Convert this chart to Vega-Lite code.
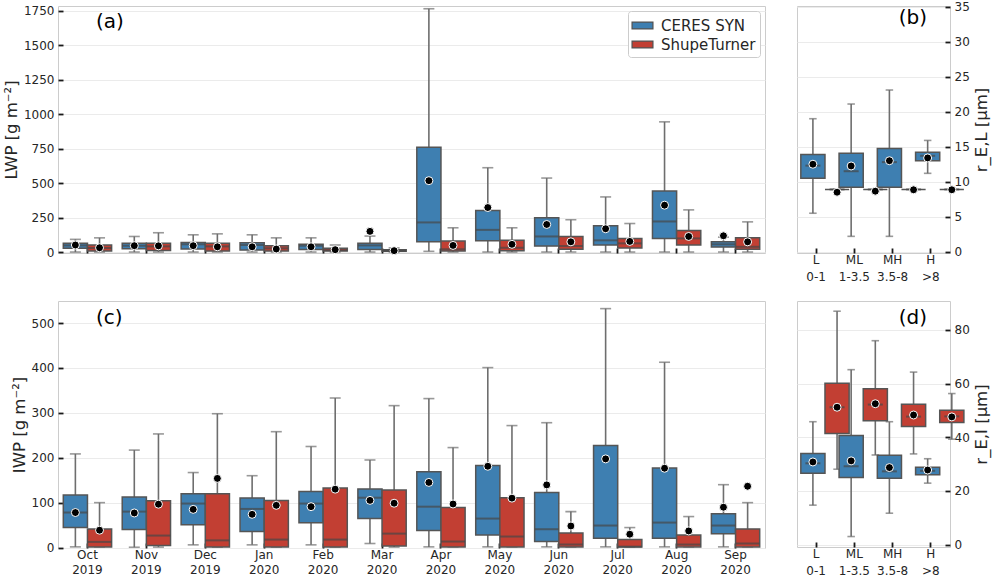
{
  "$schema": "https://vega.github.io/schema/vega-lite/v6.json",
  "background": "white",
  "padding": {"left": 2, "top": 0, "right": 2, "bottom": 0},
  "config": {
    "font": "DejaVu Sans",
    "view": {"stroke": "#cccccc", "strokeWidth": 1},
    "axis": {"domain": false, "tickColor": "#1a1a1a", "tickSize": -5, "tickWidth": 1.8, "labelColor": "#262626", "labelFontSize": 12, "labelPadding": 9, "titleColor": "#262626", "titleFontSize": 16.5, "titleFontWeight": "normal", "gridColor": "#ebebeb", "gridWidth": 1, "labelFont": "DejaVu Sans", "titleFont": "DejaVu Sans", "grid": false},
    "axisQuantitative": {"format": "d"},
    "axisX": {"labelAngle": 0, "labelPadding": 6, "labelLineHeight": 15},
    "title": {"fontSize": 20, "fontWeight": "normal", "font": "DejaVu Sans", "color": "black", "baseline": "alphabetic", "frame": "group"},
    "legend": {"title": null, "labelFontSize": 15, "labelColor": "#262626", "labelFont": "DejaVu Sans", "symbolType": "M-1.1,-0.36H1.1V0.36H-1.1Z", "symbolSize": 360, "symbolStrokeColor": "#505050", "symbolStrokeWidth": 1.2, "symbolOpacity": 1, "strokeColor": "#cccccc", "fillColor": "white", "padding": 4, "cornerRadius": 3, "rowPadding": 0, "labelOffset": 8}
  },
  "datasets": {
    "lwp": [
      {"m": "Oct 2019", "s": "CERES SYN", "lo": 0, "q1": 27, "md": 48, "q3": 63, "hi": 92, "mn": 51},
      {"m": "Oct 2019", "s": "ShupeTurner", "lo": 0, "q1": 7, "md": 29, "q3": 51, "hi": 103, "mn": 31},
      {"m": "Nov 2019", "s": "CERES SYN", "lo": 0, "q1": 24, "md": 46, "q3": 63, "hi": 113, "mn": 46},
      {"m": "Nov 2019", "s": "ShupeTurner", "lo": 0, "q1": 12, "md": 41, "q3": 63, "hi": 140, "mn": 45},
      {"m": "Dec 2019", "s": "CERES SYN", "lo": 0, "q1": 22, "md": 56, "q3": 70, "hi": 125, "mn": 46},
      {"m": "Dec 2019", "s": "ShupeTurner", "lo": 0, "q1": 7, "md": 41, "q3": 63, "hi": 132, "mn": 38},
      {"m": "Jan 2020", "s": "CERES SYN", "lo": 0, "q1": 14, "md": 51, "q3": 67, "hi": 125, "mn": 38},
      {"m": "Jan 2020", "s": "ShupeTurner", "lo": 0, "q1": 7, "md": 27, "q3": 46, "hi": 103, "mn": 22},
      {"m": "Feb 2020", "s": "CERES SYN", "lo": 0, "q1": 19, "md": 46, "q3": 56, "hi": 103, "mn": 38},
      {"m": "Feb 2020", "s": "ShupeTurner", "lo": 0, "q1": 7, "md": 14, "q3": 27, "hi": 51, "mn": 17},
      {"m": "Mar 2020", "s": "CERES SYN", "lo": 0, "q1": 19, "md": 48, "q3": 63, "hi": 116, "mn": 150},
      {"m": "Mar 2020", "s": "ShupeTurner", "lo": 0, "q1": 5, "md": 10, "q3": 17, "hi": 30, "mn": 10},
      {"m": "Apr 2020", "s": "CERES SYN", "lo": 5, "q1": 74, "md": 215, "q3": 761, "hi": 1766, "mn": 518},
      {"m": "Apr 2020", "s": "ShupeTurner", "lo": 0, "q1": 7, "md": 20, "q3": 80, "hi": 176, "mn": 48},
      {"m": "May 2020", "s": "CERES SYN", "lo": 0, "q1": 82, "md": 161, "q3": 301, "hi": 612, "mn": 323},
      {"m": "May 2020", "s": "ShupeTurner", "lo": 0, "q1": 10, "md": 31, "q3": 85, "hi": 176, "mn": 56},
      {"m": "Jun 2020", "s": "CERES SYN", "lo": 0, "q1": 43, "md": 113, "q3": 248, "hi": 537, "mn": 200},
      {"m": "Jun 2020", "s": "ShupeTurner", "lo": 0, "q1": 20, "md": 43, "q3": 113, "hi": 234, "mn": 74},
      {"m": "Jul 2020", "s": "CERES SYN", "lo": 0, "q1": 51, "md": 85, "q3": 190, "hi": 400, "mn": 169},
      {"m": "Jul 2020", "s": "ShupeTurner", "lo": 0, "q1": 29, "md": 63, "q3": 99, "hi": 207, "mn": 77},
      {"m": "Aug 2020", "s": "CERES SYN", "lo": 0, "q1": 99, "md": 222, "q3": 443, "hi": 945, "mn": 340},
      {"m": "Aug 2020", "s": "ShupeTurner", "lo": 0, "q1": 51, "md": 99, "q3": 157, "hi": 306, "mn": 113},
      {"m": "Sep 2020", "s": "CERES SYN", "lo": 0, "q1": 36, "md": 56, "q3": 74, "hi": 108, "mn": 118},
      {"m": "Sep 2020", "s": "ShupeTurner", "lo": 0, "q1": 20, "md": 38, "q3": 103, "hi": 219, "mn": 74}
    ],
    "iwp": [
      {"m": "Oct 2019", "s": "CERES SYN", "lo": 1.5, "q1": 44.5, "md": 78, "q3": 117, "hi": 208.5, "mn": 78},
      {"m": "Oct 2019", "s": "ShupeTurner", "lo": 1.5, "q1": 1.5, "md": 12.6, "q3": 41.5, "hi": 100, "mn": 38.6},
      {"m": "Nov 2019", "s": "CERES SYN", "lo": 0.7, "q1": 40, "md": 80, "q3": 112.8, "hi": 217, "mn": 77},
      {"m": "Nov 2019", "s": "ShupeTurner", "lo": 1, "q1": 4.5, "md": 26.7, "q3": 104, "hi": 253, "mn": 96.5},
      {"m": "Dec 2019", "s": "CERES SYN", "lo": 6, "q1": 50.5, "md": 98, "q3": 120, "hi": 167, "mn": 85},
      {"m": "Dec 2019", "s": "ShupeTurner", "lo": 1, "q1": 1, "md": 16, "q3": 120, "hi": 298, "mn": 154},
      {"m": "Jan 2020", "s": "CERES SYN", "lo": 6, "q1": 35.6, "md": 86, "q3": 110.5, "hi": 160, "mn": 74},
      {"m": "Jan 2020", "s": "ShupeTurner", "lo": 1, "q1": 1, "md": 17.8, "q3": 104.6, "hi": 258, "mn": 94},
      {"m": "Feb 2020", "s": "CERES SYN", "lo": 6, "q1": 55, "md": 98, "q3": 124.7, "hi": 225, "mn": 91},
      {"m": "Feb 2020", "s": "ShupeTurner", "lo": 1, "q1": 1, "md": 17.8, "q3": 132.8, "hi": 333, "mn": 130},
      {"m": "Mar 2020", "s": "CERES SYN", "lo": 9, "q1": 64.6, "md": 111, "q3": 130.6, "hi": 195, "mn": 105},
      {"m": "Mar 2020", "s": "ShupeTurner", "lo": 1, "q1": 3.7, "md": 31, "q3": 128.4, "hi": 316, "mn": 98.7},
      {"m": "Apr 2020", "s": "CERES SYN", "lo": 1.5, "q1": 37.8, "md": 91, "q3": 169, "hi": 331.7, "mn": 145},
      {"m": "Apr 2020", "s": "ShupeTurner", "lo": 1.5, "q1": 1.5, "md": 13.4, "q3": 89, "hi": 222.6, "mn": 97},
      {"m": "May 2020", "s": "CERES SYN", "lo": 1.5, "q1": 28, "md": 64.5, "q3": 182.5, "hi": 400.7, "mn": 181},
      {"m": "May 2020", "s": "ShupeTurner", "lo": 1.5, "q1": 1.5, "md": 24.5, "q3": 111, "hi": 271.6, "mn": 110},
      {"m": "Jun 2020", "s": "CERES SYN", "lo": 1.5, "q1": 13.4, "md": 40.8, "q3": 122.4, "hi": 278, "mn": 139.5},
      {"m": "Jun 2020", "s": "ShupeTurner", "lo": 1.5, "q1": 1.5, "md": 6.7, "q3": 32.6, "hi": 80, "mn": 48},
      {"m": "Jul 2020", "s": "CERES SYN", "lo": 1.5, "q1": 20.8, "md": 49, "q3": 227, "hi": 532, "mn": 197.4},
      {"m": "Jul 2020", "s": "ShupeTurner", "lo": 1.5, "q1": 1.5, "md": 2, "q3": 17.8, "hi": 44.5, "mn": 29.7},
      {"m": "Aug 2020", "s": "CERES SYN", "lo": 1.5, "q1": 20.8, "md": 55.6, "q3": 177, "hi": 412.6, "mn": 176.6},
      {"m": "Aug 2020", "s": "ShupeTurner", "lo": 1.5, "q1": 1.5, "md": 6.7, "q3": 28, "hi": 69, "mn": 37},
      {"m": "Sep 2020", "s": "CERES SYN", "lo": 1.5, "q1": 31, "md": 49, "q3": 75, "hi": 140, "mn": 89.8},
      {"m": "Sep 2020", "s": "ShupeTurner", "lo": 1.5, "q1": 1.5, "md": 9, "q3": 41.5, "hi": 100, "mn": 136.5}
    ],
    "rel": [
      {"m": "L 0-1", "s": "CERES SYN", "lo": 5.5, "q1": 10.5, "md": 12.3, "q3": 13.9, "hi": 19.0, "mn": 12.5},
      {"m": "L 0-1", "s": "ShupeTurner", "lo": 8.9, "q1": 8.9, "md": 8.9, "q3": 8.9, "hi": 8.9, "mn": 8.5},
      {"m": "ML 1-3.5", "s": "CERES SYN", "lo": 2.2, "q1": 9.2, "md": 11.5, "q3": 14.05, "hi": 21.1, "mn": 12.25},
      {"m": "ML 1-3.5", "s": "ShupeTurner", "lo": 8.9, "q1": 8.9, "md": 8.9, "q3": 8.9, "hi": 8.9, "mn": 8.65},
      {"m": "MH 3.5-8", "s": "CERES SYN", "lo": 2.2, "q1": 9.2, "md": 12.8, "q3": 14.76, "hi": 23.1, "mn": 13.0},
      {"m": "MH 3.5-8", "s": "ShupeTurner", "lo": 8.9, "q1": 8.9, "md": 8.9, "q3": 8.9, "hi": 8.9, "mn": 8.85},
      {"m": "H >8", "s": "CERES SYN", "lo": 11.2, "q1": 13.0, "md": 13.7, "q3": 14.2, "hi": 15.9, "mn": 13.4},
      {"m": "H >8", "s": "ShupeTurner", "lo": 8.9, "q1": 8.9, "md": 8.9, "q3": 8.9, "hi": 8.9, "mn": 8.85}
    ],
    "rei": [
      {"m": "L 0-1", "s": "CERES SYN", "lo": 14.7, "q1": 26.6, "md": 30.3, "q3": 34.0, "hi": 45.8, "mn": 30.8},
      {"m": "L 0-1", "s": "ShupeTurner", "lo": 28.1, "q1": 41.4, "md": 51.2, "q3": 60.1, "hi": 87.0, "mn": 51.2},
      {"m": "ML 1-3.5", "s": "CERES SYN", "lo": 3.0, "q1": 25.0, "md": 29.2, "q3": 40.7, "hi": 65.2, "mn": 31.2},
      {"m": "ML 1-3.5", "s": "ShupeTurner", "lo": 33.4, "q1": 46.2, "md": 52.2, "q3": 58.1, "hi": 76.0, "mn": 52.5},
      {"m": "MH 3.5-8", "s": "CERES SYN", "lo": 11.7, "q1": 24.7, "md": 27.3, "q3": 33.3, "hi": 45.8, "mn": 28.7},
      {"m": "MH 3.5-8", "s": "ShupeTurner", "lo": 33.8, "q1": 44.0, "md": 47.7, "q3": 52.3, "hi": 64.3, "mn": 48.3},
      {"m": "H >8", "s": "CERES SYN", "lo": 22.9, "q1": 26.0, "md": 27.5, "q3": 28.8, "hi": 32.0, "mn": 27.8},
      {"m": "H >8", "s": "ShupeTurner", "lo": 39.3, "q1": 45.5, "md": 47.8, "q3": 50.1, "hi": 56.3, "mn": 47.6}
    ]
  },
  "columns": 2,
  "bounds": "flush",
  "spacing": {"row": 48, "column": 32},
  "resolve": {"scale": {"color": "independent", "x": "independent", "y": "independent"}, "legend": {"color": "independent"}},
  "concat": [
    {
      "width": 707, "height": 247,
      "data": {"name": "lwp"},
      "title": {"text": "(a)", "anchor": "start", "dx": 38, "offset": -27},
      "encoding": {
        "x": {"field": "m", "type": "nominal", "sort": ["Oct 2019","Nov 2019","Dec 2019","Jan 2020","Feb 2020","Mar 2020","Apr 2020","May 2020","Jun 2020","Jul 2020","Aug 2020","Sep 2020"], "scale": {"paddingInner": 0.18, "paddingOuter": 0.09}, "axis": {"title": null, "labels": false}},
        "xOffset": {"field": "s", "type": "nominal", "sort": ["CERES SYN", "ShupeTurner"], "scale": {"paddingInner": 0, "paddingOuter": 0}}
      },
      "layer": [
        {"mark": {"type": "rule", "color": "#6e6e6e", "strokeWidth": 1.6}, "encoding": {"y": {"field": "lo", "type": "quantitative", "scale": {"domain": [-7, 1786], "nice": false, "zero": false}, "axis": {"title": "LWP [g m⁻²]", "values": [0, 250, 500, 750, 1000, 1250, 1500, 1750], "grid": true}}, "y2": {"field": "hi"}}},
        {"mark": {"type": "tick", "color": "#6e6e6e", "thickness": 1.6, "size": 11}, "encoding": {"y": {"field": "lo", "type": "quantitative", "scale": {"domain": [-7, 1786], "nice": false, "zero": false}, "axis": {"title": "LWP [g m⁻²]", "values": [0, 250, 500, 750, 1000, 1250, 1500, 1750], "grid": true}}}},
        {"mark": {"type": "tick", "color": "#6e6e6e", "thickness": 1.6, "size": 11}, "encoding": {"y": {"field": "hi", "type": "quantitative", "scale": {"domain": [-7, 1786], "nice": false, "zero": false}, "axis": {"title": "LWP [g m⁻²]", "values": [0, 250, 500, 750, 1000, 1250, 1500, 1750], "grid": true}}}},
        {"mark": {"type": "bar", "stroke": "#555555", "strokeWidth": 1.5}, "encoding": {"y": {"field": "q1", "type": "quantitative", "scale": {"domain": [-7, 1786], "nice": false, "zero": false}, "axis": {"title": "LWP [g m⁻²]", "values": [0, 250, 500, 750, 1000, 1250, 1500, 1750], "grid": true}}, "y2": {"field": "q3"}, "color": {"field": "s", "type": "nominal", "scale": {"domain": ["CERES SYN", "ShupeTurner"], "range": ["#3e7fb1", "#c23f33"]}, "legend": {"orient": "top-right", "offset": 5}}}},
        {"mark": {"type": "tick", "color": "#474747", "thickness": 2, "size": 24}, "encoding": {"y": {"field": "md", "type": "quantitative", "scale": {"domain": [-7, 1786], "nice": false, "zero": false}, "axis": {"title": "LWP [g m⁻²]", "values": [0, 250, 500, 750, 1000, 1250, 1500, 1750], "grid": true}}}},
        {"mark": {"type": "point", "filled": true, "color": "black", "stroke": "white", "strokeWidth": 1, "size": 64, "opacity": 1}, "encoding": {"y": {"field": "mn", "type": "quantitative", "scale": {"domain": [-7, 1786], "nice": false, "zero": false}, "axis": {"title": "LWP [g m⁻²]", "values": [0, 250, 500, 750, 1000, 1250, 1500, 1750], "grid": true}}}}
      ]
    },
    {
      "width": 153, "height": 247,
      "data": {"name": "rel"},
      "title": {"text": "(b)", "anchor": "end", "dx": -23, "offset": -27},
      "encoding": {
        "x": {"field": "m", "type": "nominal", "sort": ["L 0-1", "ML 1-3.5", "MH 3.5-8", "H >8"], "scale": {"paddingInner": 0.2, "paddingOuter": 0.1}, "axis": {"title": null, "labelExpr": "split(datum.label, ' ')", "labelLineHeight": 17}},
        "xOffset": {"field": "s", "type": "nominal", "sort": ["CERES SYN", "ShupeTurner"], "scale": {"paddingInner": 0, "paddingOuter": 0}}
      },
      "layer": [
        {"mark": {"type": "rule", "color": "#6e6e6e", "strokeWidth": 1.6}, "encoding": {"y": {"field": "lo", "type": "quantitative", "scale": {"domain": [-0.18, 35.1], "nice": false, "zero": false}, "axis": {"orient": "right", "title": "r_E,L [μm]", "titleAngle": 270, "titleBaseline": "top", "values": [0, 5, 10, 15, 20, 25, 30, 35], "grid": true}}, "y2": {"field": "hi"}}},
        {"mark": {"type": "tick", "color": "#6e6e6e", "thickness": 1.6, "size": 7.5}, "encoding": {"y": {"field": "lo", "type": "quantitative", "scale": {"domain": [-0.18, 35.1], "nice": false, "zero": false}, "axis": {"orient": "right", "title": "r_E,L [μm]", "titleAngle": 270, "titleBaseline": "top", "values": [0, 5, 10, 15, 20, 25, 30, 35], "grid": true}}}},
        {"mark": {"type": "tick", "color": "#6e6e6e", "thickness": 1.6, "size": 7.5}, "encoding": {"y": {"field": "hi", "type": "quantitative", "scale": {"domain": [-0.18, 35.1], "nice": false, "zero": false}, "axis": {"orient": "right", "title": "r_E,L [μm]", "titleAngle": 270, "titleBaseline": "top", "values": [0, 5, 10, 15, 20, 25, 30, 35], "grid": true}}}},
        {"mark": {"type": "bar", "stroke": "#555555", "strokeWidth": 1.5}, "encoding": {"y": {"field": "q1", "type": "quantitative", "scale": {"domain": [-0.18, 35.1], "nice": false, "zero": false}, "axis": {"orient": "right", "title": "r_E,L [μm]", "titleAngle": 270, "titleBaseline": "top", "values": [0, 5, 10, 15, 20, 25, 30, 35], "grid": true}}, "y2": {"field": "q3"}, "color": {"field": "s", "type": "nominal", "scale": {"domain": ["CERES SYN", "ShupeTurner"], "range": ["#3e7fb1", "#c23f33"]}, "legend": null}}},
        {"mark": {"type": "tick", "color": "#474747", "thickness": 2, "size": 15}, "encoding": {"y": {"field": "md", "type": "quantitative", "scale": {"domain": [-0.18, 35.1], "nice": false, "zero": false}, "axis": {"orient": "right", "title": "r_E,L [μm]", "titleAngle": 270, "titleBaseline": "top", "values": [0, 5, 10, 15, 20, 25, 30, 35], "grid": true}}}},
        {"mark": {"type": "point", "filled": true, "color": "black", "stroke": "white", "strokeWidth": 1, "size": 64, "opacity": 1}, "encoding": {"y": {"field": "mn", "type": "quantitative", "scale": {"domain": [-0.18, 35.1], "nice": false, "zero": false}, "axis": {"orient": "right", "title": "r_E,L [μm]", "titleAngle": 270, "titleBaseline": "top", "values": [0, 5, 10, 15, 20, 25, 30, 35], "grid": true}}}}
      ]
    },
    {
      "width": 707, "height": 247,
      "data": {"name": "iwp"},
      "title": {"text": "(c)", "anchor": "start", "dx": 38, "offset": -27},
      "encoding": {
        "x": {"field": "m", "type": "nominal", "sort": ["Oct 2019","Nov 2019","Dec 2019","Jan 2020","Feb 2020","Mar 2020","Apr 2020","May 2020","Jun 2020","Jul 2020","Aug 2020","Sep 2020"], "scale": {"paddingInner": 0.18, "paddingOuter": 0.09}, "axis": {"title": null, "labelExpr": "split(datum.label, ' ')"}},
        "xOffset": {"field": "s", "type": "nominal", "sort": ["CERES SYN", "ShupeTurner"], "scale": {"paddingInner": 0, "paddingOuter": 0}}
      },
      "layer": [
        {"mark": {"type": "rule", "color": "#6e6e6e", "strokeWidth": 1.6}, "encoding": {"y": {"field": "lo", "type": "quantitative", "scale": {"domain": [-1, 549], "nice": false, "zero": false}, "axis": {"title": "IWP [g m⁻²]", "values": [0, 100, 200, 300, 400, 500], "grid": true}}, "y2": {"field": "hi"}}},
        {"mark": {"type": "tick", "color": "#6e6e6e", "thickness": 1.6, "size": 11}, "encoding": {"y": {"field": "lo", "type": "quantitative", "scale": {"domain": [-1, 549], "nice": false, "zero": false}, "axis": {"title": "IWP [g m⁻²]", "values": [0, 100, 200, 300, 400, 500], "grid": true}}}},
        {"mark": {"type": "tick", "color": "#6e6e6e", "thickness": 1.6, "size": 11}, "encoding": {"y": {"field": "hi", "type": "quantitative", "scale": {"domain": [-1, 549], "nice": false, "zero": false}, "axis": {"title": "IWP [g m⁻²]", "values": [0, 100, 200, 300, 400, 500], "grid": true}}}},
        {"mark": {"type": "bar", "stroke": "#555555", "strokeWidth": 1.5}, "encoding": {"y": {"field": "q1", "type": "quantitative", "scale": {"domain": [-1, 549], "nice": false, "zero": false}, "axis": {"title": "IWP [g m⁻²]", "values": [0, 100, 200, 300, 400, 500], "grid": true}}, "y2": {"field": "q3"}, "color": {"field": "s", "type": "nominal", "scale": {"domain": ["CERES SYN", "ShupeTurner"], "range": ["#3e7fb1", "#c23f33"]}, "legend": null}}},
        {"mark": {"type": "tick", "color": "#474747", "thickness": 2, "size": 24}, "encoding": {"y": {"field": "md", "type": "quantitative", "scale": {"domain": [-1, 549], "nice": false, "zero": false}, "axis": {"title": "IWP [g m⁻²]", "values": [0, 100, 200, 300, 400, 500], "grid": true}}}},
        {"mark": {"type": "point", "filled": true, "color": "black", "stroke": "white", "strokeWidth": 1, "size": 64, "opacity": 1}, "encoding": {"y": {"field": "mn", "type": "quantitative", "scale": {"domain": [-1, 549], "nice": false, "zero": false}, "axis": {"title": "IWP [g m⁻²]", "values": [0, 100, 200, 300, 400, 500], "grid": true}}}}
      ]
    },
    {
      "width": 153, "height": 246,
      "data": {"name": "rei"},
      "title": {"text": "(d)", "anchor": "end", "dx": -23, "offset": -27},
      "encoding": {
        "x": {"field": "m", "type": "nominal", "sort": ["L 0-1", "ML 1-3.5", "MH 3.5-8", "H >8"], "scale": {"paddingInner": 0.2, "paddingOuter": 0.1}, "axis": {"title": null, "labelExpr": "split(datum.label, ' ')", "labelLineHeight": 17}},
        "xOffset": {"field": "s", "type": "nominal", "sort": ["CERES SYN", "ShupeTurner"], "scale": {"paddingInner": 0, "paddingOuter": 0}}
      },
      "layer": [
        {"mark": {"type": "rule", "color": "#6e6e6e", "strokeWidth": 1.6}, "encoding": {"y": {"field": "lo", "type": "quantitative", "scale": {"domain": [-0.9, 90.8], "nice": false, "zero": false}, "axis": {"orient": "right", "title": "r_E,I [μm]", "titleAngle": 270, "titleBaseline": "top", "values": [0, 20, 40, 60, 80], "grid": true}}, "y2": {"field": "hi"}}},
        {"mark": {"type": "tick", "color": "#6e6e6e", "thickness": 1.6, "size": 7.5}, "encoding": {"y": {"field": "lo", "type": "quantitative", "scale": {"domain": [-0.9, 90.8], "nice": false, "zero": false}, "axis": {"orient": "right", "title": "r_E,I [μm]", "titleAngle": 270, "titleBaseline": "top", "values": [0, 20, 40, 60, 80], "grid": true}}}},
        {"mark": {"type": "tick", "color": "#6e6e6e", "thickness": 1.6, "size": 7.5}, "encoding": {"y": {"field": "hi", "type": "quantitative", "scale": {"domain": [-0.9, 90.8], "nice": false, "zero": false}, "axis": {"orient": "right", "title": "r_E,I [μm]", "titleAngle": 270, "titleBaseline": "top", "values": [0, 20, 40, 60, 80], "grid": true}}}},
        {"mark": {"type": "bar", "stroke": "#555555", "strokeWidth": 1.5}, "encoding": {"y": {"field": "q1", "type": "quantitative", "scale": {"domain": [-0.9, 90.8], "nice": false, "zero": false}, "axis": {"orient": "right", "title": "r_E,I [μm]", "titleAngle": 270, "titleBaseline": "top", "values": [0, 20, 40, 60, 80], "grid": true}}, "y2": {"field": "q3"}, "color": {"field": "s", "type": "nominal", "scale": {"domain": ["CERES SYN", "ShupeTurner"], "range": ["#3e7fb1", "#c23f33"]}, "legend": null}}},
        {"mark": {"type": "tick", "color": "#474747", "thickness": 2, "size": 15}, "encoding": {"y": {"field": "md", "type": "quantitative", "scale": {"domain": [-0.9, 90.8], "nice": false, "zero": false}, "axis": {"orient": "right", "title": "r_E,I [μm]", "titleAngle": 270, "titleBaseline": "top", "values": [0, 20, 40, 60, 80], "grid": true}}}},
        {"mark": {"type": "point", "filled": true, "color": "black", "stroke": "white", "strokeWidth": 1, "size": 64, "opacity": 1}, "encoding": {"y": {"field": "mn", "type": "quantitative", "scale": {"domain": [-0.9, 90.8], "nice": false, "zero": false}, "axis": {"orient": "right", "title": "r_E,I [μm]", "titleAngle": 270, "titleBaseline": "top", "values": [0, 20, 40, 60, 80], "grid": true}}}}
      ]
    }
  ]
}
